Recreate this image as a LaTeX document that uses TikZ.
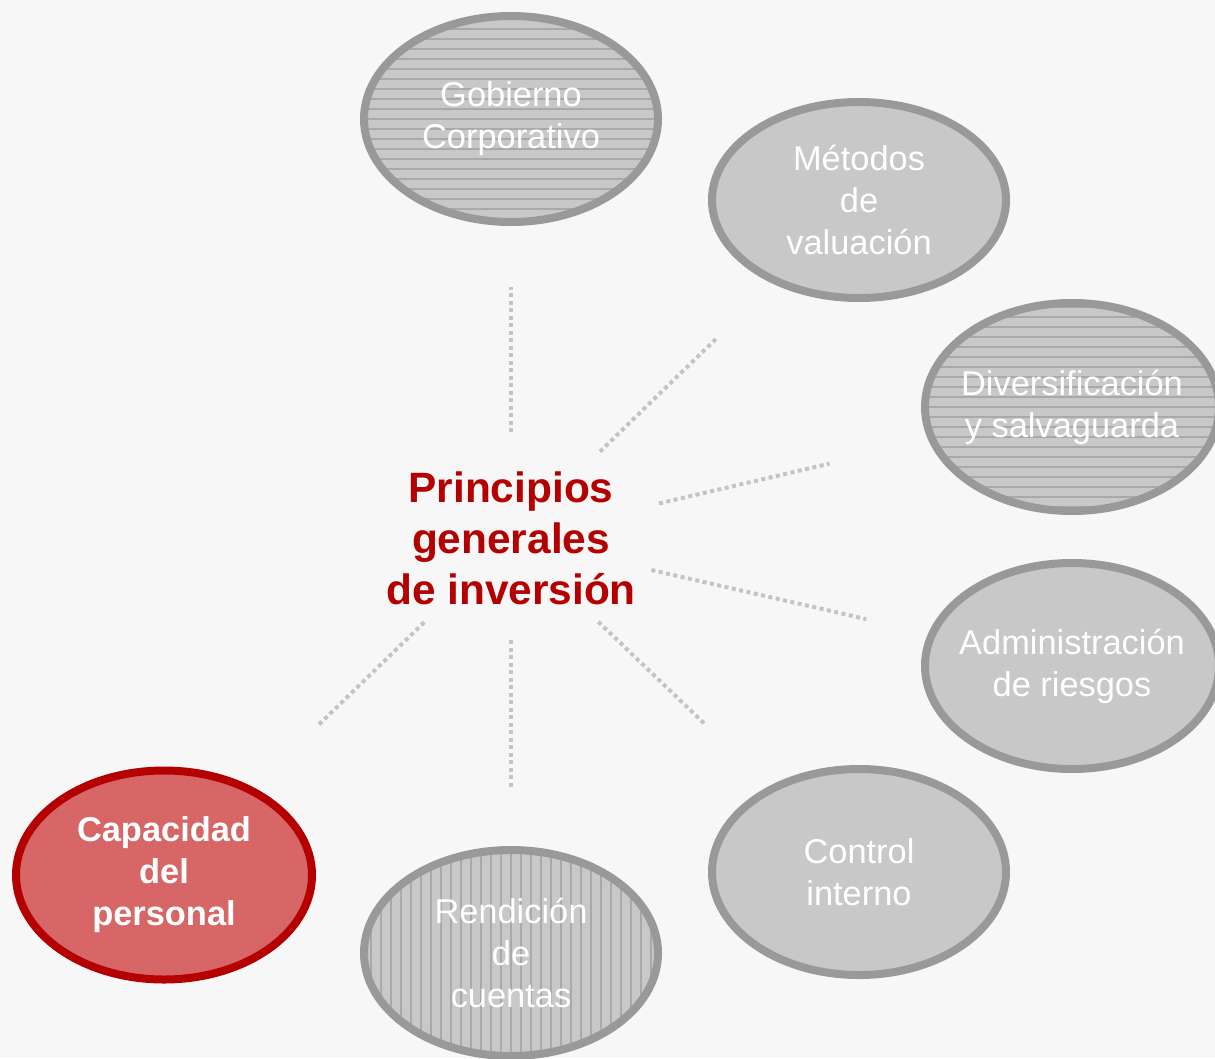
\documentclass[tikz,border=0pt]{standalone}
\usepackage{fontspec}
\setmainfont{Liberation Sans}
\usetikzlibrary{shapes.geometric}
\definecolor{pagebg}{HTML}{F7F7F7}
\definecolor{rimgray}{HTML}{999999}
\definecolor{bubblegray}{HTML}{C8C8C8}
\definecolor{stripegray}{HTML}{A9A9A9}
\definecolor{dotgray}{HTML}{C4C4C4}
\definecolor{hubred}{HTML}{B40000}
\definecolor{capfill}{HTML}{D96666}

\begin{document}
\begin{tikzpicture}[x=1pt,y=-1pt,
    bubble/.style={ellipse,draw=rimgray,line width=8pt,fill=bubblegray,inner sep=-30pt,
      minimum width=294pt,minimum height=206pt,text=white,align=center,
      font=\fontsize{34.4}{42}\selectfont},
    hstripes/.style={path picture={\foreach \k in {-110,-100,...,110}
      \draw[stripegray,line width=1.2pt] ([yshift=\k pt]path picture bounding box.west)
        -- ([yshift=\k pt]path picture bounding box.east);}},
    vstripes/.style={path picture={\foreach \k in {-150,-140,...,150}
      \draw[stripegray,line width=1.2pt] ([xshift=\k pt]path picture bounding box.north)
        -- ([xshift=\k pt]path picture bounding box.south);}},
    redhatch/.style={draw=hubred,fill=capfill,font=\bfseries\fontsize{34.4}{42}\selectfont,
      path picture={\foreach \k in {-150,-144,...,150}
      \draw[hubred!60,line width=0.8pt] ([xshift=\k pt]path picture bounding box.north)
        -- ([xshift=\k pt]path picture bounding box.south);}},
    hub node/.style={text=hubred,align=center,font=\bfseries\fontsize{42.4}{51}\selectfont},
    link/.style={draw=dotgray,line width=4pt,dash pattern=on 4pt off 3.5pt}]

    \useasboundingbox (0,0) rectangle (1215,1058);
    \clip (0,0) rectangle (1215,1058);
    \fill[pagebg] (0,0) rectangle (1215,1058);

    \node[hub node] (c) at (511,538) {Principios\\generales\\de inversión};

    \node[bubble,hstripes] (g) at (511,119) {Gobierno\\Corporativo};
    \node[bubble,minimum height=196pt] (m) at (859,200) {Métodos\\de\\valuación};
    \node[bubble,hstripes,minimum height=208pt] (d) at (1072,407) {Diversificación\\y salvaguarda};
    \node[bubble] (a) at (1072,666) {Administración\\de riesgos};
    \node[bubble] (i) at (859,872) {Control\\interno};
    \node[bubble,vstripes] (r) at (511,953) {Rendición\\de\\cuentas};
    \node[bubble,redhatch,minimum width=296pt,minimum height=209pt] (p) at (164,875) {Capacidad\\del\\personal};

    \path[link]
    (c.center) edge[shorten <=106pt,shorten >=168pt] (g.center)
    (c.center) edge[shorten <=124pt,shorten >=197pt] (m.center)
    (c.center) edge[shorten <=152pt,shorten >=249pt] (d.center)
    (c.center) edge[shorten <=144pt,shorten >=211pt] (a.center)
    (c.center) edge[shorten <=121pt,shorten >=213pt] (i.center)
    (c.center) edge[shorten <=102pt,shorten >=166pt] (r.center)
    (c.center) edge[shorten <=121pt,shorten >=213pt] (p.center);
\end{tikzpicture}
\end{document}
